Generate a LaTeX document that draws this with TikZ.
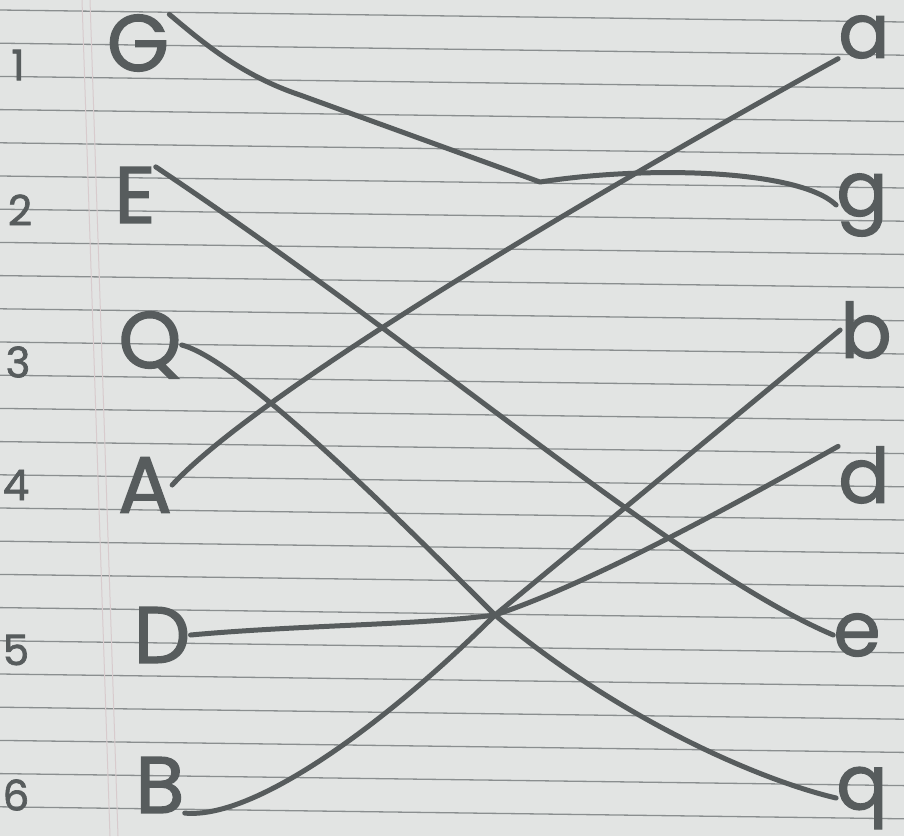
\documentclass[tikz,border=0pt]{standalone}
\usepackage[dvipsnames,svgnames,x11names]{xcolor}
\usepackage{fontspec}
\newfontfamily\handfont{Poppins}[FakeBold=1.6]
\usepackage{tikz}
\usetikzlibrary{backgrounds, calc, positioning}

\definecolor{pencil}{HTML}{575C5D}
\definecolor{paper}{HTML}{E2E4E3}
\definecolor{ruling}{HTML}{8A8E8F}
\definecolor{margin}{HTML}{D8CBCD}

\begin{document}
\begin{tikzpicture}[x=1pt, y=-1pt,
    num/.style={font=\handfont\fontsize{42}{42}\selectfont, text=pencil, inner sep=0pt},
    capital/.style={font=\handfont\fontsize{80}{80}\selectfont, text=pencil, inner sep=0pt},
    lower/.style={font=\handfont\fontsize{76}{76}\selectfont, text=pencil, inner sep=0pt},
    match/.style={draw=pencil, line width=5pt, line cap=round, line join=round},
  ]
    % the sheet
    \fill[paper] (0,0) rectangle (904,836);
    \useasboundingbox (0,0) rectangle (904,836);
    \foreach \k in {0,...,25}
      \draw[ruling, line width=1.3pt] (0,10+33.2*\k) -- (904,22+33.2*\k);
    \draw[margin, line width=1pt] (82,0) -- (110,836);
    \draw[margin, line width=1pt] (90,0) -- (118,836);

    % numbers
    \node[num] (n1) at (18,65) {1};
    \node[num] (n2) at (20,210) {2};
    \node[num] (n3) at (18,362) {3};
    \node[num] (n4) at (16,485) {4};
    \node[num] (n5) at (16,650) {5};
    \node[num] (n6) at (16,795) {6};

    % left column
    \node[capital] (G) at (138,43) {G};
    \node[capital] (E) at (135,195) {E};
    \node[capital] (Q) at (150,345) {Q};
    \node[capital] (A) at (145,485) {A};
    \node[capital] (D) at (162,635) {D};
    \node[capital] (B) at (160,785) {B};

    % right column
    \node[lower] (a) at (864,37) {a};
    \node[lower] (g) at (862,205) {g};
    \node[lower] (b) at (866,330) {b};
    \node[lower] (d) at (864,475) {d};
    \node[lower] (e) at (857,635) {e};
    \node[lower] (q) at (862,798) {q};

    \coordinate (cross) at (495,615);

    % matches
    \draw[match] (G.north east) .. controls (200,40) and (240,75) .. (300,95)
      -- (540,182) .. controls (650,165) and (800,170) .. (g.west);
    \draw[match] (E.north east) .. controls (430,350) and (680,570) .. (e.west);
    \draw[match] (Q.east) .. controls (240,360) and (400,520) .. (cross)
      .. controls (620,720) and (760,780) .. (q.west);
    \draw[match] (A.east) .. controls (260,390) and (600,190) .. (a.south west);
    \draw[match] (D.east) .. controls (300,625) and (420,625) .. (cross)
      .. controls (600,580) and (760,490) .. (d.north west);
    \draw[match] (B.south east) .. controls (260,820) and (400,710) .. (cross)
      -- (b.west);
\end{tikzpicture}
\end{document}
